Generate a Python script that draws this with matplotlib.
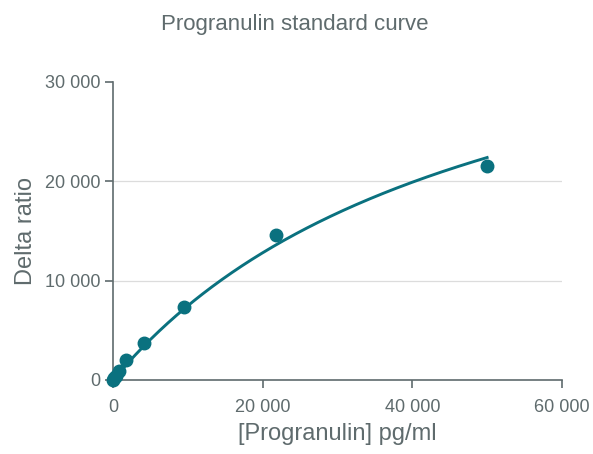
import numpy as np
import matplotlib.pyplot as plt

plt.rcParams["font.family"] = ["Liberation Sans", "DejaVu Sans"]

# standard points
conc = [0, 147, 338, 777, 1787, 4110, 9452, 21739, 50000]
delta = [0, 160, 380, 900, 2000, 3750, 7300, 14550, 21550]

# fitted curve (hyperbolic, bottom=0)
fit_top = 44700
fit_ec50 = 49800
fit_slope = 1.0

x_ticks = [0, 20000, 40000, 60000]
y_ticks = [0, 10000, 20000, 30000]

teal = "#0a717f"
grey = "#5f6b6d"

fig = plt.figure(figsize=(5.93, 4.54), dpi=100)
ax = fig.add_axes([0.1906, 0.163, 0.757, 0.6564])

xf = np.linspace(0, max(conc), 300)
yf = fit_top * (xf / fit_ec50) ** fit_slope / (1 + (xf / fit_ec50) ** fit_slope)
ax.plot(xf, yf, color=teal, lw=2.1, clip_on=False, zorder=3)
ax.plot(conc, delta, "o", color=teal, ms=9, clip_on=False, zorder=4)

ax.set_xlim(0, 60000)
ax.set_ylim(0, 30000)
ax.set_xticks(x_ticks)
ax.set_yticks(y_ticks)
ax.set_xticklabels([f"{v:,}".replace(",", " ") for v in x_ticks])
ax.set_yticklabels([f"{v:,}".replace(",", " ") for v in y_ticks])

for v in y_ticks[1:-1]:
    ax.axhline(v, color="#dcdcdc", lw=0.9, zorder=0)

for s in ["top", "right"]:
    ax.spines[s].set_visible(False)
for s in ["left", "bottom"]:
    ax.spines[s].set_color(grey)
    ax.spines[s].set_linewidth(1.2)

ax.tick_params(axis="both", colors=grey, labelcolor=grey, labelsize=13,
               length=6, width=1.2, direction="out")
ax.tick_params(axis="x", pad=8)
ax.tick_params(axis="y", pad=3)

ax.set_xlabel("[Progranulin] pg/ml", fontsize=17, color=grey, labelpad=5)
ax.set_ylabel("Delta ratio", fontsize=17, color=grey, labelpad=6)
fig.text(0.497, 0.945, "Progranulin standard curve", fontsize=16,
         color=grey, ha="center", va="center")

fig.savefig("out.png", dpi=100)
